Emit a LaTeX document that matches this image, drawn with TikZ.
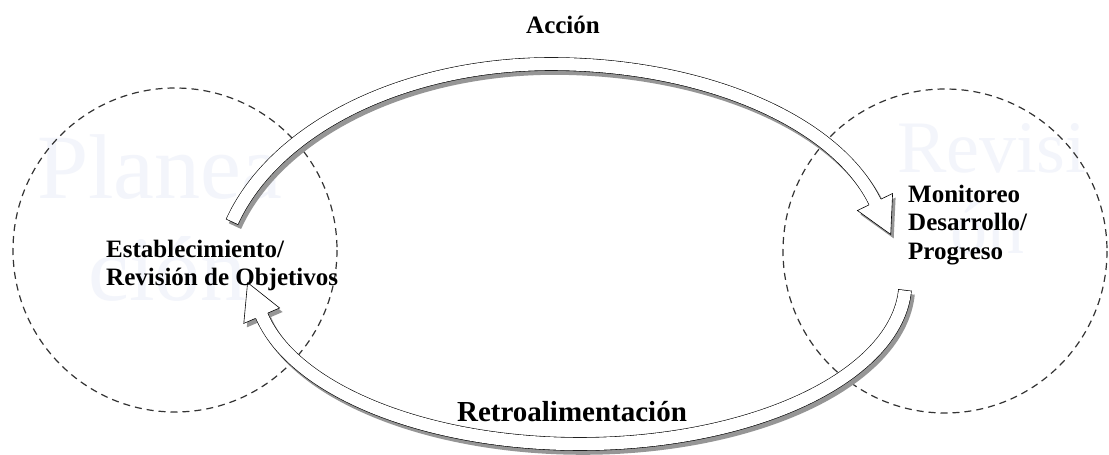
\documentclass[tikz,border=0pt]{standalone}
\usepackage{fontspec}
\setmainfont{Liberation Serif}
\usetikzlibrary{calc}

\definecolor{faint}{RGB}{243,245,251}
\definecolor{ringgray}{RGB}{51,51,51}
\definecolor{shadowgray}{RGB}{150,150,150}

\tikzset{
  ring/.style={draw=ringgray, line width=1.2pt, dash pattern=on 7pt off 5pt},
  lbl/.style={font=\bfseries\fontsize{25}{29}\selectfont, inner sep=0pt, anchor=base west},
  title/.style={font=\bfseries\fontsize{#1}{#1}\selectfont, inner sep=0pt, anchor=base},
  ghost/.style={text=faint, inner sep=0pt, anchor=base west},
  bodyout/.style={line width=13.6pt, draw=black, line join=round},
  bodyin/.style={line width=12.4pt, draw=white, line join=round, shorten <=0.7pt},
  shade/.style={line width=13.6pt, draw=shadowgray, line join=round},
  headline/.style={line width=0.6pt, line join=miter},
}

\begin{document}
\begin{tikzpicture}[x=1pt,y=-1pt]
\useasboundingbox (0,0) rectangle (1109,455);
\fill[white] (0,0) rectangle (1109,455);

% faint background lettering
\node[ghost, font=\fontsize{92}{92}\selectfont] (wmA) at (37,198) {Planea};
\node[ghost, font=\fontsize{92}{92}\selectfont] (wmB) at (88,300) {ción};
\node[ghost, font=\fontsize{74}{74}\selectfont] (wmC) at (897,172) {Revisi};
\node[ghost, font=\fontsize{74}{74}\selectfont] (wmD) at (950,253) {ón};

% the two phases
\draw[ring] (175,250) circle[radius=162];
\draw[ring] (945,251) circle[radius=162];

% arrow heads: tip and the two barbs
\coordinate (aT) at (890.7,234.4);
\coordinate (aB1) at (892.6,193.5);
\coordinate (aB2) at (857.4,210.5);
\coordinate (aM) at ($(aB1)!0.5!(aB2)$);
\coordinate (bT) at (247.6,282.6);
\coordinate (bB1) at (243.8,323.4);
\coordinate (bB2) at (279.6,308);
\coordinate (bM) at ($(bB1)!0.5!(bB2)$);

% centre lines: two half ellipses on top, one elliptic arc below
\def\toppath{plot[domain=163.2:90, samples=70] ({551+333.3*cos(\x)},{286.4-222.4*sin(\x)})
  -- plot[domain=90:14, samples=70] ({551+335.6*cos(\x)},{250.7-186.7*sin(\x)})}
\def\botpath{plot[domain=-2.8:-169, samples=120] ({580+325.4*cos(\x)},{282-162*sin(\x)})}

% drop shadows
\begin{scope}[transform canvas={shift={(3pt,-4pt)}}]
  \draw[shade] \toppath;
  \draw[shade] \botpath;
  \fill[shadowgray] (aB1) -- (aT) -- (aB2) -- cycle;
  \fill[shadowgray] (bB1) -- (bT) -- (bB2) -- cycle;
\end{scope}

% arrow bodies
\draw[bodyout] \toppath;
\draw[bodyin] \toppath;
\draw[bodyout] \botpath;
\draw[bodyin] \botpath;

% arrow heads
\fill[white] (aB1) -- (aT) -- (aB2) -- cycle;
\draw[headline] ($(aM)!6.8pt!(aB1)$) -- (aB1) -- (aT) -- (aB2) -- ($(aM)!6.8pt!(aB2)$);
\fill[white] (bB1) -- (bT) -- (bB2) -- cycle;
\draw[headline] ($(bM)!6.8pt!(bB1)$) -- (bB1) -- (bT) -- (bB2) -- ($(bM)!6.8pt!(bB2)$);

% labels
\node[title=25] (accion) at (563,34) {Acción};
\node[title=29] (retro) at (572,421) {Retroalimentación};
\node[lbl] (est1) at (106,257) {Establecimiento/};
\node[lbl] (est2) at (106,285) {Revisión de Objetivos};
\node[lbl] (mon1) at (908,202) {Monitoreo};
\node[lbl] (mon2) at (908,230) {Desarrollo/};
\node[lbl] (mon3) at (908,259) {Progreso};
\end{tikzpicture}
\end{document}
